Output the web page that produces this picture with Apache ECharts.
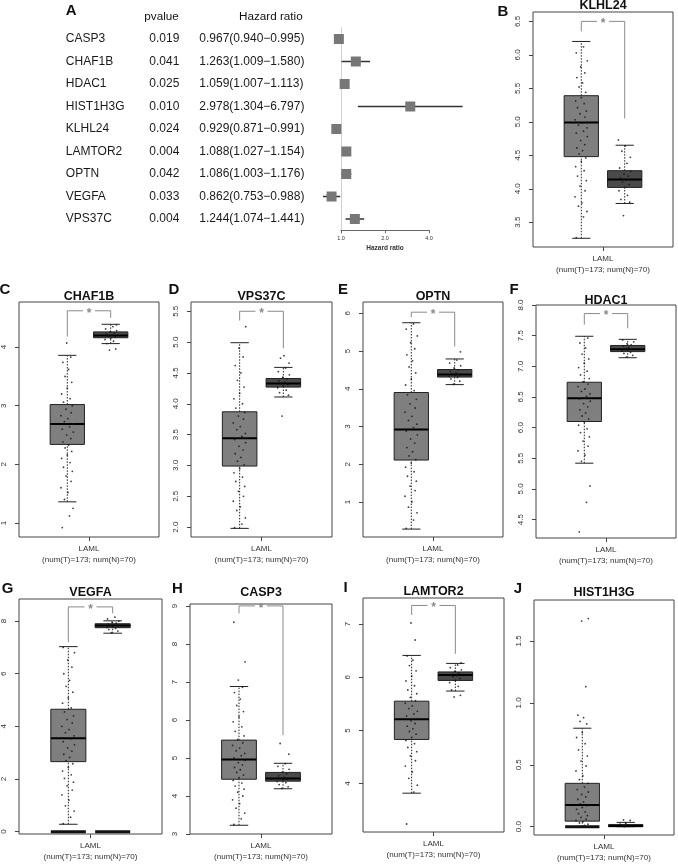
<!DOCTYPE html>
<html>
<head>
<meta charset="utf-8">
<script src="https://cdn.jsdelivr.net/npm/echarts@6/dist/echarts.min.js"></script>
<style>
  html, body { margin: 0; padding: 0; background: #fff; }
  #chart { width: 678px; height: 866px; }
</style>
</head>
<body>
<div id="chart"></div>
<script>
// ---- panel A: univariate cox ----
const coxGenes = ["CASP3", "CHAF1B", "HDAC1", "HIST1H3G", "KLHL24", "LAMTOR2", "OPTN", "VEGFA", "VPS37C"];
const coxP = ["0.019", "0.041", "0.025", "0.010", "0.024", "0.004", "0.042", "0.033", "0.004"];
const coxHR = [0.967, 1.263, 1.059, 2.978, 0.929, 1.088, 1.086, 0.862, 1.244];
const coxLow = [0.940, 1.009, 1.007, 1.304, 0.871, 1.027, 1.003, 0.753, 1.074];
const coxHigh = [0.995, 1.580, 1.113, 6.797, 0.991, 1.154, 1.176, 0.988, 1.441];
const hrTicks = [1, 2, 4];

// ---- panels B-J: expression boxplots (GEPIA) ----
const cancer = "LAML";
const numT = 173, numN = 70;
const boxGenes = ["KLHL24", "CHAF1B", "VPS37C", "OPTN", "HDAC1", "VEGFA", "CASP3", "LAMTOR2", "HIST1H3G"];
const panelLetters = ["B", "C", "D", "E", "F", "G", "H", "I", "J"];
// [lower whisker, Q1, median, Q3, upper whisker]
const tumorBox = [
  [3.26, 4.48, 4.99, 5.39, 6.2],
  [1.36, 2.34, 2.69, 3.02, 3.86],
  [1.98, 2.99, 3.44, 3.87, 4.99],
  [0.28, 2.11, 2.92, 3.9, 5.75],
  [5.42, 6.1, 6.48, 6.74, 7.49],
  [0.28, 2.66, 3.55, 4.65, 7.03],
  [3.23, 4.44, 4.96, 5.47, 6.88],
  [3.82, 4.83, 5.21, 5.55, 6.41],
  [0, 0.045, 0.175, 0.35, 0.795]
];
const normalBox = [
  [3.78, 4.02, 4.14, 4.27, 4.65],
  [4.06, 4.16, 4.2, 4.26, 4.39],
  [4.11, 4.27, 4.33, 4.41, 4.59],
  [4.11, 4.31, 4.38, 4.51, 4.79],
  [7.14, 7.24, 7.28, 7.34, 7.44],
  [7.54, 7.75, 7.83, 7.9, 8.01],
  [4.19, 4.39, 4.46, 4.62, 4.86],
  [5.74, 5.94, 6.04, 6.1, 6.26],
  [0, 0, 0.005, 0.018, 0.035]
];
const yTickLabels = [
  ["3.5", "4.0", "4.5", "5.0", "5.5", "6.0", "6.5"],
  ["1", "2", "3", "4"],
  ["2.0", "2.5", "3.0", "3.5", "4.0", "4.5", "5.0", "5.5"],
  ["1", "2", "3", "4", "5", "6"],
  ["4.5", "5.0", "5.5", "6.0", "6.5", "7.0", "7.5", "8.0"],
  ["0", "2", "4", "6", "8"],
  ["3", "4", "5", "6", "7", "8", "9"],
  ["4", "5", "6", "7"],
  ["0.0", "0.5", "1.0", "1.5"]
];
// significance bracket: [top, tumour leg end, normal leg end]
const sigBracket = [
  [6.5, 6.35, 5.05],
  [4.62, 4.18, 4.5],
  [5.5, 5.35, 4.9],
  [6.03, 5.9, 5.12],
  [7.86, 7.68, 7.62],
  [8.54, 7.2, 8.3],
  [9.0, 8.8, 5.6],
  [7.35, 7.17, 6.44],
  null
];
// groups that also have a flat box at zero (0 = tumour, 1 = normal)
const zeroBox = [[], [], [], [], [], [0, 1], [], [], [0]];

const tumorPts = [
  [3.27, 3.58, 3.66, 3.74, 3.79, 3.88, 3.97, 4.04, 4.12, 4.19, 4.27, 4.33, 4.41, 4.46, 4.52, 4.57, 4.61, 4.66, 4.72, 4.78, 4.83, 4.86, 4.91, 4.95, 4.98, 5.03, 5.07, 5.12, 5.16, 5.21, 5.27, 5.31, 5.36, 5.44, 5.52, 5.58, 5.66, 5.73, 5.82, 5.91, 6.03, 6.12],
  [0.92, 1.12, 1.25, 1.4, 1.52, 1.6, 1.71, 1.8, 1.88, 1.95, 2.03, 2.1, 2.16, 2.22, 2.28, 2.33, 2.38, 2.44, 2.5, 2.55, 2.6, 2.64, 2.69, 2.73, 2.78, 2.83, 2.88, 2.94, 3.0, 3.06, 3.12, 3.2, 3.3, 3.4, 3.5, 3.62, 3.74, 3.83, 4.07],
  [1.99, 2.05, 2.15, 2.27, 2.33, 2.42, 2.5, 2.58, 2.66, 2.74, 2.81, 2.88, 2.95, 3.01, 3.07, 3.13, 3.19, 3.25, 3.31, 3.37, 3.42, 3.47, 3.52, 3.58, 3.63, 3.69, 3.75, 3.8, 3.86, 3.93, 4.0, 4.08, 4.17, 4.27, 4.38, 4.5, 4.62, 4.76, 4.9, 5.25],
  [0.3, 0.52, 0.71, 0.86, 1.0, 1.15, 1.3, 1.42, 1.55, 1.68, 1.8, 1.92, 2.03, 2.12, 2.22, 2.33, 2.44, 2.56, 2.67, 2.78, 2.88, 2.97, 3.06, 3.16, 3.27, 3.38, 3.49, 3.6, 3.72, 3.84, 3.95, 4.1, 4.26, 4.42, 4.58, 4.74, 4.9, 5.06, 5.22, 5.4, 5.58, 5.72],
  [4.3, 4.78, 5.05, 5.45, 5.55, 5.62, 5.7, 5.78, 5.85, 5.92, 5.98, 6.04, 6.09, 6.14, 6.19, 6.24, 6.29, 6.34, 6.39, 6.43, 6.47, 6.51, 6.55, 6.59, 6.63, 6.67, 6.71, 6.75, 6.8, 6.86, 6.92, 6.98, 7.05, 7.12, 7.2, 7.3, 7.38, 7.46],
  [0.3, 0.55, 0.78, 0.98, 1.2, 1.4, 1.58, 1.74, 1.88, 2.02, 2.16, 2.3, 2.44, 2.58, 2.7, 2.82, 2.94, 3.06, 3.18, 3.3, 3.42, 3.53, 3.64, 3.76, 3.88, 4.0, 4.13, 4.26, 4.4, 4.55, 4.7, 4.88, 5.08, 5.3, 5.52, 5.75, 6.0, 6.25, 6.52, 6.8, 7.0],
  [3.25, 3.4, 3.55, 3.68, 3.8, 3.9, 4.0, 4.1, 4.18, 4.26, 4.34, 4.41, 4.48, 4.55, 4.62, 4.69, 4.75, 4.82, 4.88, 4.94, 5.0, 5.06, 5.12, 5.19, 5.26, 5.33, 5.4, 5.48, 5.58, 5.7, 5.82, 5.95, 6.08, 6.22, 6.38, 6.55, 6.72, 6.86, 7.05, 7.53, 8.57],
  [3.24, 3.84, 3.97, 4.1, 4.22, 4.33, 4.43, 4.52, 4.6, 4.68, 4.75, 4.81, 4.87, 4.93, 4.98, 5.03, 5.08, 5.13, 5.18, 5.22, 5.27, 5.31, 5.36, 5.41, 5.46, 5.51, 5.56, 5.62, 5.69, 5.76, 5.84, 5.93, 6.02, 6.12, 6.22, 6.32, 6.4, 6.7, 7.02],
  [0.0, 0.01, 0.02, 0.03, 0.04, 0.05, 0.06, 0.075, 0.09, 0.105, 0.12, 0.14, 0.155, 0.17, 0.185, 0.2, 0.22, 0.24, 0.26, 0.28, 0.3, 0.32, 0.35, 0.38, 0.41, 0.45, 0.49, 0.53, 0.57, 0.62, 0.67, 0.72, 0.76, 0.83, 0.85, 0.88, 0.9, 1.13, 1.66, 1.68]
];
const normalPts = [
  [3.6, 3.8, 3.84, 3.9, 3.97, 4.02, 4.06, 4.1, 4.13, 4.16, 4.19, 4.22, 4.26, 4.31, 4.38, 4.47, 4.56, 4.64, 4.73],
  [3.95, 3.97, 4.06, 4.1, 4.13, 4.15, 4.17, 4.19, 4.2, 4.22, 4.24, 4.26, 4.28, 4.31, 4.35, 4.38],
  [3.8, 4.14, 4.18, 4.22, 4.26, 4.29, 4.31, 4.33, 4.35, 4.37, 4.4, 4.43, 4.47, 4.52, 4.58, 4.66, 4.74, 4.78],
  [4.12, 4.2, 4.26, 4.3, 4.33, 4.36, 4.38, 4.4, 4.43, 4.46, 4.5, 4.55, 4.61, 4.68, 4.76, 4.98],
  [7.15, 7.18, 7.21, 7.23, 7.25, 7.26, 7.28, 7.29, 7.31, 7.33, 7.35, 7.37, 7.4, 7.43],
  [7.56, 7.62, 7.68, 7.72, 7.76, 7.79, 7.82, 7.84, 7.86, 7.89, 7.92, 7.96, 8.0, 8.08, 8.15],
  [4.2, 4.24, 4.3, 4.35, 4.38, 4.41, 4.44, 4.46, 4.49, 4.53, 4.58, 4.63, 4.7, 4.78, 4.85, 5.1, 5.38],
  [5.63, 5.66, 5.76, 5.83, 5.9, 5.94, 5.98, 6.01, 6.03, 6.05, 6.08, 6.11, 6.14, 6.18, 6.23, 6.27],
  [0, 0.005, 0.01, 0.015, 0.02, 0.03, 0.05, 0.055]
];

// ---- layout ----
const FONT = '"Liberation Sans", Arial, sans-serif';
// plot frames [left, top, width, height]
const frames = [
  [533, 12, 140, 235],
  [19, 302, 140, 235], [191, 302, 141, 235], [363, 302, 140, 235], [536, 305, 140, 233],
  [19, 599, 143, 235], [190, 604, 142, 230], [363, 598, 141, 234], [534, 600, 140, 235]
];
const yLimits = [
  [3.13, 6.64], [0.76, 4.77], [1.84, 5.65], [0.07, 6.3], [4.2, 8.0],
  [-0.09, 8.84], [3.0, 9.05], [3.09, 7.49], [-0.067, 1.83]
];
const titleY = [6, 297, 297, 297, 300.5, 593, 593, 592, 593];
const letterXY = [[503, 12], [5, 290], [174, 290], [343, 290], [514, 290], [7.5, 588.5], [177.5, 588.5], [345.5, 588], [518, 588.5]];
const TPOS = 0.345, NPOS = 0.655;   // group centres inside a frame (0..1)
const BOX_W = 0.245, CAP_W = 0.13;
const jitter = [-0.8, 0.35, 0.9, -0.45, 0.1, -1, 0.6, -0.2, 0.8, -0.6, 0.45, -0.9, 0, 0.7, -0.35, 0.2, -0.7, 0.55, -0.1, 0.95];
const SPREAD = 0.045;

function txt(s, x, y, font, align, fill) {
  return {
    type: "text", x: x, y: y, silent: true,
    style: {
      text: s, font: font + " " + FONT, fill: fill || "#111",
      align: align, verticalAlign: "middle",
      textAlign: align, textVerticalAlign: "middle"
    }
  };
}

const grid = [{ left: 341, top: 27.75, width: 88, height: 202.5 }];
const xAxis = [{
  gridIndex: 0, type: "log", logBase: 2, min: 1, max: 4,
  axisLine: { show: true, onZero: false, lineStyle: { color: "#666", width: 1 } },
  axisTick: { show: true, customValues: hrTicks, length: 3, lineStyle: { color: "#666" } },
  axisLabel: { customValues: hrTicks, formatter: v => v.toFixed(1), fontSize: 5.5, margin: 5, color: "#333", fontFamily: FONT },
  splitLine: { show: false },
  name: "Hazard ratio", nameLocation: "middle", nameGap: 14,
  nameTextStyle: { fontSize: 6.5, fontWeight: "bold", color: "#333", fontFamily: FONT }
}];
const yAxis = [{
  gridIndex: 0, type: "category", data: coxGenes, inverse: true,
  axisLine: { show: true, lineStyle: { color: "#d0d0d0", width: 1 } },
  axisTick: { show: false },
  splitLine: { show: false },
  axisLabel: {
    margin: 35.7,
    formatter: (v, i) => "{g|" + v + "}{p|" + coxP[i] + "}{h|" + coxHR[i].toFixed(3) + "(" + coxLow[i].toFixed(3) + "\u2212" + coxHigh[i].toFixed(3) + ")}",
    rich: {
      g: { width: 83.5, align: "left", fontSize: 12, fontFamily: FONT, color: "#1a1a1a" },
      p: { width: 50, align: "left", fontSize: 12, fontFamily: FONT, color: "#1a1a1a" },
      h: { width: 106, align: "left", fontSize: 12, fontFamily: FONT, color: "#1a1a1a" }
    }
  }
}];
const series = [{
  type: "custom", xAxisIndex: 0, yAxisIndex: 0, clip: false, silent: true,
  data: coxGenes.map((g, i) => [coxHR[i], coxLow[i], coxHigh[i], i]),
  encode: { x: [0, 1, 2], y: 3 },
  renderItem: (params, api) => {
    const i = api.value(3);
    const c = api.coord([api.value(0), i]);
    const a = api.coord([api.value(1), i]);
    const b = api.coord([api.value(2), i]);
    return {
      type: "group", children: [
        { type: "line", shape: { x1: a[0], y1: a[1], x2: b[0], y2: b[1] }, style: { stroke: "#333", lineWidth: 1.5 } },
        { type: "rect", shape: { x: c[0] - 5, y: c[1] - 5, width: 10, height: 10 }, style: { fill: "#777" } }
      ]
    };
  }
}];

const graphics = [
  txt("A", 65.7, 11, "bold 15px", "left"),
  txt("pvalue", 144.3, 16.7, "11.7px", "left"),
  txt("Hazard ratio", 239, 16.7, "11.7px", "left")
];

function renderBox(params, api) {
  const x = api.value(0);
  const lo = api.value(1), q1 = api.value(2), md = api.value(3), q3 = api.value(4), hi = api.value(5);
  const pLo = api.coord([x, lo]), pQ1 = api.coord([x, q1]), pMd = api.coord([x, md]);
  const pQ3 = api.coord([x, q3]), pHi = api.coord([x, hi]);
  const bl = api.coord([x - BOX_W / 2, q3])[0], br = api.coord([x + BOX_W / 2, q3])[0];
  const cl = api.coord([x - CAP_W / 2, lo])[0], cr = api.coord([x + CAP_W / 2, lo])[0];
  const fill = params.dataIndex === 0 ? "#7f7f7f" : "#4a4a4a";
  const dash = { stroke: "#222", lineWidth: 1, lineDash: [1.5, 1.5] };
  const solid = { stroke: "#222", lineWidth: 1 };
  return {
    type: "group", children: [
      { type: "line", shape: { x1: pLo[0], y1: pLo[1], x2: pQ1[0], y2: pQ1[1] }, style: dash },
      { type: "line", shape: { x1: pQ3[0], y1: pQ3[1], x2: pHi[0], y2: pHi[1] }, style: dash },
      { type: "line", shape: { x1: cl, y1: pLo[1], x2: cr, y2: pLo[1] }, style: solid },
      { type: "line", shape: { x1: cl, y1: pHi[1], x2: cr, y2: pHi[1] }, style: solid },
      { type: "rect", shape: { x: bl, y: pQ3[1], width: br - bl, height: pQ1[1] - pQ3[1] }, style: { fill: fill, stroke: "#222", lineWidth: 1 } },
      { type: "line", shape: { x1: bl, y1: pMd[1], x2: br, y2: pMd[1] }, style: { stroke: "#000", lineWidth: 2 } }
    ]
  };
}

function renderZero(params, api) {
  const x = api.value(0);
  const l = api.coord([x - BOX_W / 2, api.value(1)]), r = api.coord([x + BOX_W / 2, api.value(1)]);
  return { type: "line", shape: { x1: l[0], y1: l[1], x2: r[0], y2: r[1] }, style: { stroke: "#111", lineWidth: 3 } };
}

function renderBracket(params, api) {
  const top = api.value(1);
  const L = api.coord([TPOS, top]), R = api.coord([NPOS, top]);
  const Ld = api.coord([TPOS, api.value(2)]), Rd = api.coord([NPOS, api.value(3)]);
  const mid = (L[0] + R[0]) / 2;
  const st = { stroke: "#8a8a8a", lineWidth: 1, fill: null };
  return {
    type: "group", children: [
      { type: "polyline", shape: { points: [Ld, L, [mid - 6, L[1]]] }, style: st },
      { type: "polyline", shape: { points: [[mid + 6, R[1]], R, Rd] }, style: st },
      { type: "text", x: mid, y: L[1] + 2.5, style: { text: "*", font: "bold 12px " + FONT, fill: "#8a8a8a", align: "center", verticalAlign: "middle", textAlign: "center", textVerticalAlign: "middle" } }
    ]
  };
}

boxGenes.forEach((gene, p) => {
  const f = frames[p];
  const gi = p + 1;
  const ticks = yTickLabels[p].map(Number);
  grid.push({ left: f[0], top: f[1], width: f[2], height: f[3], show: true, borderColor: "#444", borderWidth: 1, backgroundColor: "transparent" });
  xAxis.push({
    gridIndex: gi, type: "value", min: 0, max: 1,
    axisLine: { show: false, onZero: false },
    splitLine: { show: false },
    axisTick: { show: true, customValues: [0.5], length: 4, lineStyle: { color: "#444" } },
    axisLabel: {
      customValues: [0.5], formatter: () => cancer + "\n(num(T)=" + numT + "; num(N)=" + numN + ")",
      fontSize: 8, lineHeight: 11, margin: 6, color: "#333", fontFamily: FONT
    }
  });
  yAxis.push({
    gridIndex: gi, type: "value", min: yLimits[p][0], max: yLimits[p][1],
    axisLine: { show: false, onZero: false },
    splitLine: { show: false },
    axisTick: { show: true, customValues: ticks, length: 4, lineStyle: { color: "#444" } },
    axisLabel: {
      customValues: ticks, rotate: 90, fontSize: 8, margin: 11, color: "#333", fontFamily: FONT,
      formatter: v => { const s = yTickLabels[p].find(t => Math.abs(Number(t) - v) < 1e-9); return s === undefined ? "" : s; }
    }
  });
  series.push({
    type: "custom", xAxisIndex: gi, yAxisIndex: gi, silent: true,
    data: [[TPOS].concat(tumorBox[p]), [NPOS].concat(normalBox[p])],
    encode: { x: 0, y: [1, 2, 3, 4, 5] },
    renderItem: renderBox
  });
  if (zeroBox[p].length) {
    series.push({
      type: "custom", xAxisIndex: gi, yAxisIndex: gi, silent: true,
      data: zeroBox[p].map(g => [g === 0 ? TPOS : NPOS, 0]),
      encode: { x: 0, y: 1 },
      renderItem: renderZero
    });
  }
  const pts = tumorPts[p].map((v, i) => [TPOS + jitter[i % jitter.length] * SPREAD, v])
    .concat(normalPts[p].map((v, i) => [NPOS + jitter[(i + 7) % jitter.length] * SPREAD, v]));
  series.push({
    type: "scatter", xAxisIndex: gi, yAxisIndex: gi, silent: true,
    symbol: "circle", symbolSize: 1.8, itemStyle: { color: "#111" },
    data: pts
  });
  if (sigBracket[p]) {
    series.push({
      type: "custom", xAxisIndex: gi, yAxisIndex: gi, silent: true, clip: false,
      data: [[0.5].concat(sigBracket[p])],
      encode: { x: 0, y: [1, 2, 3] },
      renderItem: renderBracket
    });
  }
  graphics.push(txt(gene, f[0] + f[2] / 2, titleY[p], "bold 12.5px", "center"));
  graphics.push(txt(panelLetters[p], letterXY[p][0], letterXY[p][1], "bold 15px", "center"));
});

const chart = echarts.init(document.getElementById("chart"));
chart.setOption({
  animation: false,
  backgroundColor: "#fff",
  textStyle: { fontFamily: FONT },
  grid: grid,
  xAxis: xAxis,
  yAxis: yAxis,
  series: series,
  graphic: graphics
});
</script>
</body>
</html>
